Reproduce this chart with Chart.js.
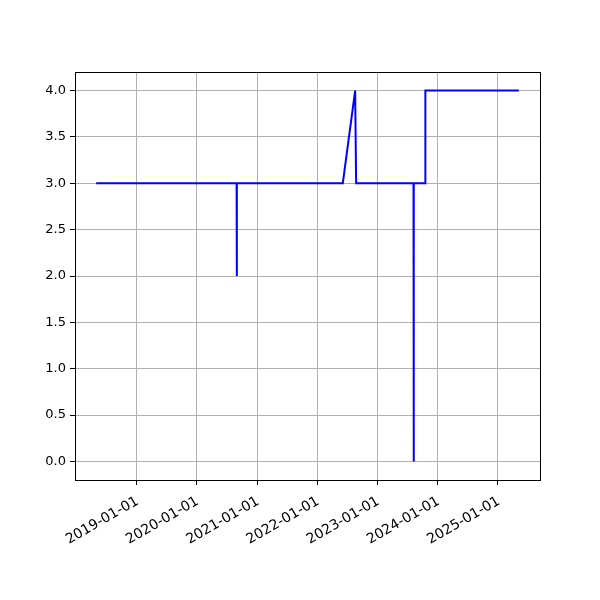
<!DOCTYPE html>
<html>
<head>
<meta charset="utf-8">
<script src="https://cdn.jsdelivr.net/npm/chart.js@4"></script>
<style>
  body { margin: 0; background: #fff; }
  canvas { display: block; }
</style>
</head>
<body>
<canvas id="myChart" width="600" height="600"></canvas>
<script>
// data
var dates = [
  "2018-05-01", "2020-08-30", "2020-08-31", "2020-09-01",
  "2022-06-05", "2022-08-19", "2022-08-25",
  "2023-08-08", "2023-08-09", "2023-08-10",
  "2023-10-18", "2023-10-19", "2025-05-08",
];
var values = [3, 3, 2, 3, 3, 4, 3, 3, 0, 3, 3, 4, 4];
var yearTicks = [2019, 2020, 2021, 2022, 2023, 2024, 2025];
var yTicks = [0, 0.5, 1, 1.5, 2, 2.5, 3, 3.5, 4];

function toTime(s) {
  var p = s.split("-");
  return Date.UTC(+p[0], +p[1] - 1, +p[2]);
}

var points = dates.map(function (d, i) {
  return { x: toTime(d), y: values[i] };
});
var tMin = points[0].x;
var tMax = points[points.length - 1].x;
var pad = (tMax - tMin) * 0.05;

var FONT = { family: "DejaVu Sans", size: 13 };
var XFONT = { family: "DejaVu Sans", size: 14 };

// box round the plot area
var frame = {
  id: "frame",
  afterDraw: function (chart) {
    var a = chart.chartArea;
    var ctx = chart.ctx;
    ctx.save();
    ctx.strokeStyle = "#000";
    ctx.lineWidth = 1;
    ctx.strokeRect(Math.round(a.left) + 0.5, Math.round(a.top) + 0.5,
      Math.round(a.right - a.left), Math.round(a.bottom - a.top));
    ctx.restore();
  },
};

new Chart("myChart", {
  type: "line",
  data: {
    datasets: [
      {
        data: points,
        borderColor: "#0000ff",
        borderWidth: 2,
        pointRadius: 0,
        tension: 0,
        fill: false,
      },
    ],
  },
  options: {
    responsive: false,
    animation: false,
    layout: { padding: { left: 0, top: 72, right: 60, bottom: 0 } },
    plugins: { legend: { display: false }, tooltip: { enabled: false } },
    scales: {
      x: {
        type: "linear",
        min: tMin - pad,
        max: tMax + pad,
        afterBuildTicks: function (scale) {
          scale.ticks = yearTicks.map(function (y) {
            return { value: Date.UTC(y, 0, 1) };
          });
        },
        afterFit: function (scale) {
          scale.height = 120;
        },
        grid: { color: "#b0b0b0", tickColor: "#000", tickLength: 5 },
        border: { display: true, color: "#000" },
        ticks: {
          autoSkip: false,
          minRotation: 30,
          maxRotation: 30,
          padding: 8,
          labelOffset: 1,
          color: "#000",
          font: XFONT,
          callback: function (v) {
            return new Date(v).getUTCFullYear() + "-01-01";
          },
        },
      },
      y: {
        min: -0.2,
        max: 4.2,
        afterBuildTicks: function (scale) {
          scale.ticks = yTicks.map(function (v) {
            return { value: v };
          });
        },
        afterFit: function (scale) {
          scale.width = 75;
        },
        grid: { color: "#b0b0b0", tickColor: "#000", tickLength: 5 },
        border: { display: true, color: "#000" },
        ticks: {
          padding: 4,
          color: "#000",
          font: FONT,
          callback: function (v) {
            return v.toFixed(1);
          },
        },
      },
    },
  },
  plugins: [frame],
});
</script>
</body>
</html>
